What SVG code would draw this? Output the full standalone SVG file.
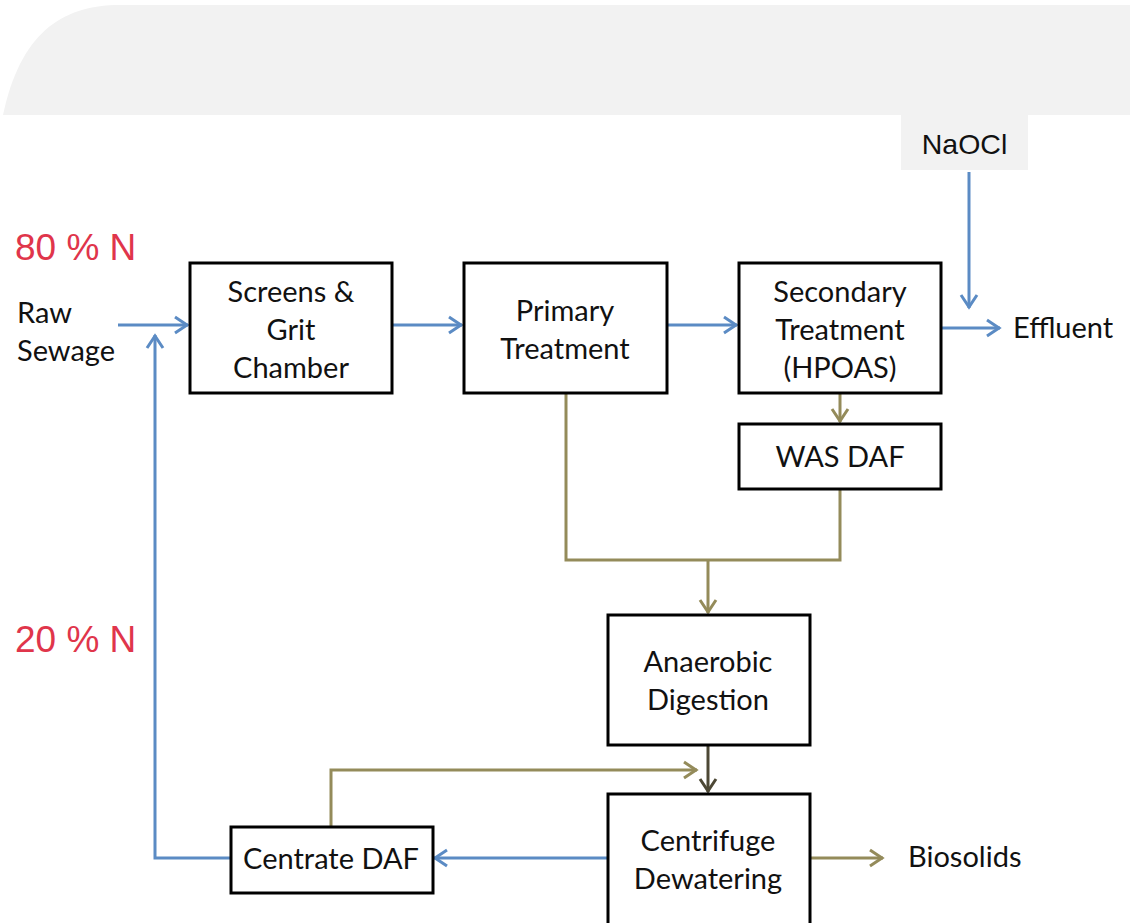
<svg xmlns="http://www.w3.org/2000/svg" width="1130" height="923" viewBox="0 0 1130 923">
  <style>
    .box { fill: #ffffff; stroke: #000000; stroke-width: 3; }
    .t { font-family: Lato, "Open Sans", sans-serif; font-size: 29px; fill: #111111; }
    .c { text-anchor: middle; }
    .red { font-family: "Liberation Sans", Arial, sans-serif; font-size: 37px; fill: #e0354b; }
    .blue { fill: none; stroke: #5b8bc4; stroke-width: 3; }
    .olive { fill: none; stroke: #948b5a; stroke-width: 3; }
    .dark { fill: none; stroke: #4d4835; stroke-width: 3; }
  </style>
  <defs>
    <marker id="ab" viewBox="0 0 20 20" markerWidth="20" markerHeight="20" refX="18" refY="10" orient="auto" markerUnits="userSpaceOnUse">
      <path d="M5,2 L17,10 L5,18" fill="none" stroke="#5b8bc4" stroke-width="3"/>
    </marker>
    <marker id="ao" viewBox="0 0 20 20" markerWidth="20" markerHeight="20" refX="18" refY="10" orient="auto" markerUnits="userSpaceOnUse">
      <path d="M5,2 L17,10 L5,18" fill="none" stroke="#948b5a" stroke-width="3"/>
    </marker>
    <marker id="ad" viewBox="0 0 20 20" markerWidth="20" markerHeight="20" refX="18" refY="10" orient="auto" markerUnits="userSpaceOnUse">
      <path d="M5,2 L17,10 L5,18" fill="none" stroke="#4d4835" stroke-width="3"/>
    </marker>
  </defs>

  <rect width="1130" height="923" fill="#ffffff"/>
  <path d="M3,115 C20,35 60,5 120,5 L1130,5 L1130,115 Z" fill="#f2f2f2"/>

  <g id="naocl">
    <rect x="901" y="114" width="127" height="56" fill="#f2f2f2"/>
    <text x="964.5" y="154" class="c" font-family="'Liberation Sans', Arial, sans-serif" font-size="28.5" fill="#111111">NaOCl</text>
  </g>

  <g id="labels">
    <text x="15" y="260" class="red">80 % N</text>
    <text x="15" y="652" class="red">20 % N</text>
  </g>

  <g id="raw-sewage">
    <text x="17" y="323" class="t">Raw</text>
    <text x="17" y="361" class="t">Sewage</text>
  </g>
  <g id="effluent">
    <text x="1013" y="338" class="t">Effluent</text>
  </g>
  <g id="biosolids">
    <text x="908" y="867" class="t">Biosolids</text>
  </g>

  <g id="connectors">
    <line x1="118" y1="325" x2="188" y2="325" class="blue" marker-end="url(#ab)"/>
    <line x1="393" y1="325" x2="462" y2="325" class="blue" marker-end="url(#ab)"/>
    <line x1="667" y1="325" x2="737" y2="325" class="blue" marker-end="url(#ab)"/>
    <line x1="942" y1="328" x2="1000" y2="328" class="blue" marker-end="url(#ab)"/>
    <line x1="969" y1="172" x2="969" y2="308" class="blue" marker-end="url(#ab)"/>
    <polyline points="230,858 155,858 155,335" class="blue" marker-end="url(#ab)"/>
    <line x1="607" y1="858" x2="434" y2="858" class="blue" marker-end="url(#ab)"/>

    <line x1="840" y1="394" x2="840" y2="422" class="olive" marker-end="url(#ao)"/>
    <polyline points="566,394 566,560 840,560 840,489" class="olive"/>
    <line x1="708" y1="560" x2="708" y2="613" class="olive" marker-end="url(#ao)"/>
    <polyline points="331,826 331,770 697,770" class="olive" marker-end="url(#ao)"/>
    <line x1="811" y1="858" x2="883" y2="858" class="olive" marker-end="url(#ao)"/>

    <line x1="708" y1="745" x2="708" y2="792" class="dark" marker-end="url(#ad)"/>
  </g>

  <g id="screens">
    <rect x="190" y="263" width="202" height="130" class="box"/>
    <text x="291" y="302" class="t c">Screens &amp;</text>
    <text x="291" y="340" class="t c">Grit</text>
    <text x="291" y="378" class="t c">Chamber</text>
  </g>
  <g id="primary">
    <rect x="464" y="263" width="203" height="130" class="box"/>
    <text x="565" y="321" class="t c">Primary</text>
    <text x="565" y="359" class="t c">Treatment</text>
  </g>
  <g id="secondary">
    <rect x="739" y="263" width="202" height="130" class="box"/>
    <text x="840" y="302" class="t c">Secondary</text>
    <text x="840" y="340" class="t c">Treatment</text>
    <text x="840" y="378" class="t c">(HPOAS)</text>
  </g>
  <g id="was-daf">
    <rect x="739" y="424" width="202" height="65" class="box"/>
    <text x="840" y="467" class="t c">WAS DAF</text>
  </g>
  <g id="anaerobic">
    <rect x="608" y="615" width="202" height="130" class="box"/>
    <text x="708" y="672" class="t c">Anaerobic</text>
    <text x="708" y="710" class="t c">Digestion</text>
  </g>
  <g id="centrifuge">
    <rect x="608" y="794" width="202" height="140" class="box"/>
    <text x="708" y="851" class="t c">Centrifuge</text>
    <text x="708" y="889" class="t c">Dewatering</text>
  </g>
  <g id="centrate-daf">
    <rect x="231" y="827" width="202" height="66" class="box"/>
    <text x="331" y="869" class="t c">Centrate DAF</text>
  </g>
</svg>
